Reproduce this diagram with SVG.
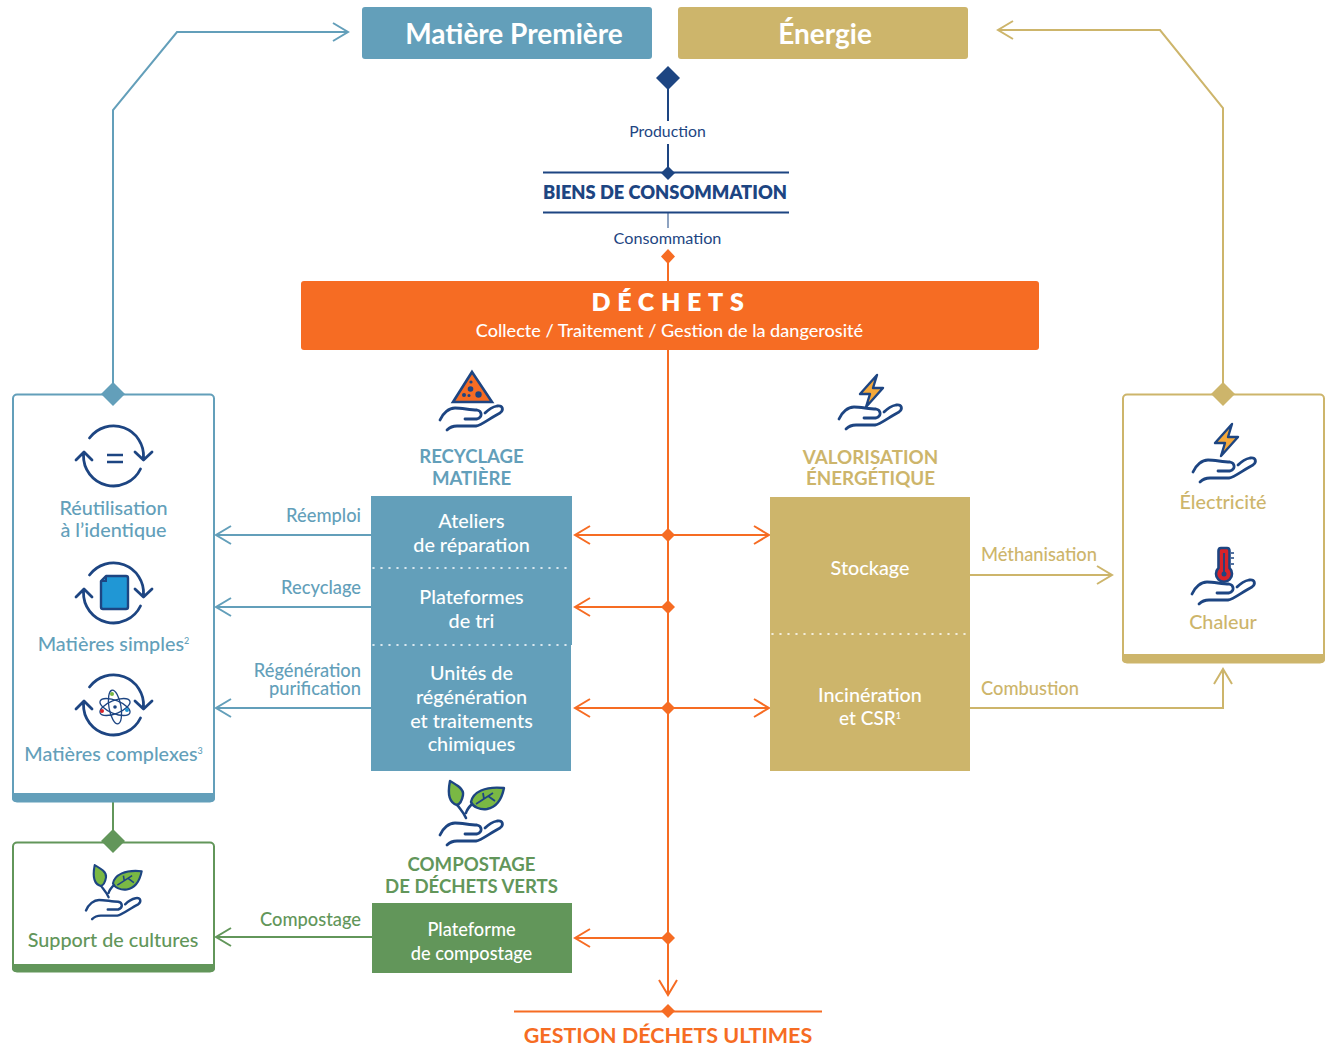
<svg xmlns="http://www.w3.org/2000/svg" width="1327" height="1055" viewBox="0 0 1327 1055">
<style>
text{font-family:Lato,"Open Sans","Liberation Sans",sans-serif;text-anchor:middle}
.b{fill:#639fba}.g{fill:#cdb56b}.o{fill:#f66c23}.d{fill:#1d4582}.v{fill:#62965a}.w{fill:#fff}
.lbl{font-size:18.300px;font-weight:500;text-anchor:end}
.st{font-size:18.600px;font-weight:700}
.nm{font-size:19.800px;font-weight:500}
.bx{font-size:19.800px;font-weight:500;fill:#fff}
.frame{fill:#fff;stroke-width:2}
.ln{fill:none;stroke-width:2}
.hd{fill:none;stroke:#1d4582;stroke-width:2.800;stroke-linecap:round;stroke-linejoin:round}
.dot{fill:none;stroke:#fff;stroke-width:1.600;stroke-dasharray:1 7;stroke-linecap:round}
</style>
<defs>
<marker id="aB" markerUnits="userSpaceOnUse" markerWidth="20" markerHeight="20" refX="16" refY="10" orient="auto"><path d="M1 1L16 10L1 19" fill="none" stroke="#639fba" stroke-width="2"/></marker>
<marker id="aG" markerUnits="userSpaceOnUse" markerWidth="20" markerHeight="20" refX="16" refY="10" orient="auto"><path d="M1 1L16 10L1 19" fill="none" stroke="#cdb56b" stroke-width="2"/></marker>
<marker id="aO" markerUnits="userSpaceOnUse" markerWidth="20" markerHeight="20" refX="16" refY="10" orient="auto"><path d="M1 1L16 10L1 19" fill="none" stroke="#f66c23" stroke-width="2"/></marker>
<marker id="aV" markerUnits="userSpaceOnUse" markerWidth="20" markerHeight="20" refX="16" refY="10" orient="auto"><path d="M1 1L16 10L1 19" fill="none" stroke="#62965a" stroke-width="2"/></marker>
<g id="hand"><path class="hd" d="M0 20C3 13 9 8 15 8C22 8 30 10 37 10C42 11 43 17 37 19L25 19M7 30C10 27 13 26 17 26L36 26C42 25 50 18 60 13C64 10 63 5 57 6C52 7 48 10 45 13"/></g>
<g id="cycle"><path class="hd" d="M-24 -18A30 30 0 0 1 30 2M21.500 -4L30 4L38.500 -4M27 13A30 30 0 0 1 -30 -1M-37.500 4L-29.500 -4L-21.500 4"/></g>
<g id="bolt"><path d="M6 -1L-11 18L-1 18L-5 31L12 12L2 12Z" fill="#f5a93a" stroke="#1d4582" stroke-width="2.400" stroke-linejoin="round"/></g>
<g id="plant">
<path d="M16 21C19 26 23 29 26 36M26 31C27 27 29 25 32 22" fill="none" stroke="#1d4582" stroke-width="2.600" stroke-linecap="round"/>
<path d="M10 -1C17 3 24 7 23 13C22 19 20 22 17 23C10 21 7 14 10 -1Z" fill="#7ab844" stroke="#1d4582" stroke-width="2.400" stroke-linejoin="round"/>
<path d="M64 6C62 16 58 25 47 27C40 28 33 25 31 20C33 10 45 4 64 6Z" fill="#7ab844" stroke="#1d4582" stroke-width="2.400" stroke-linejoin="round"/>
<path d="M36 22L53 11M44 17L43 11M48 14L55 19" fill="none" stroke="#1d4582" stroke-width="1.800"/>
</g>
</defs>

<g id="connectors">
<path class="ln" stroke="#1d4582" d="M668 85V121M668 144V172"/>
<path d="M668 213V228" fill="none" stroke="#8ea3c1" stroke-width="2"/>
<path class="ln" stroke="#f66c23" d="M668 256V281"/>
<path class="ln" stroke="#1d4582" d="M543 172.500H789M543 212.500H789"/>
<path class="ln" stroke="#639fba" marker-end="url(#aB)" d="M113 394V110L177 32H348"/>
<path class="ln" stroke="#cdb56b" marker-end="url(#aG)" d="M1223 394V108L1160 30H998"/>
<path class="ln" stroke="#f66c23" marker-end="url(#aO)" d="M668 350V995"/>
<path class="ln" stroke="#f66c23" marker-end="url(#aO)" d="M668 535H575"/>
<path class="ln" stroke="#f66c23" marker-end="url(#aO)" d="M668 535H769"/>
<path class="ln" stroke="#f66c23" marker-end="url(#aO)" d="M668 607H575"/>
<path class="ln" stroke="#f66c23" marker-end="url(#aO)" d="M668 708H575"/>
<path class="ln" stroke="#f66c23" marker-end="url(#aO)" d="M668 708H769"/>
<path class="ln" stroke="#f66c23" marker-end="url(#aO)" d="M668 938H575"/>
<path class="ln" stroke="#f66c23" d="M514 1011.500H822"/>
<path class="ln" stroke="#639fba" marker-end="url(#aB)" d="M371 535H216"/>
<path class="ln" stroke="#639fba" marker-end="url(#aB)" d="M371 607H216"/>
<path class="ln" stroke="#639fba" marker-end="url(#aB)" d="M371 708H216"/>
<path class="ln" stroke="#62965a" marker-end="url(#aV)" d="M372 937H216"/>
<path class="ln" stroke="#62965a" d="M113 802V842"/>
<path class="ln" stroke="#cdb56b" marker-end="url(#aG)" d="M970 575H1112"/>
<path class="ln" stroke="#cdb56b" marker-end="url(#aG)" d="M970 708H1223V669"/>
<g class="o">
<path d="M668 249L675 256.500L668 264L661 256.500Z"/>
<path d="M668 528L675 535L668 542L661 535Z"/>
<path d="M668 600L675 607L668 614L661 607Z"/>
<path d="M668 701L675 708L668 715L661 708Z"/>
<path d="M668 931L675 938L668 945L661 938Z"/>
<path d="M668 1004L675 1011L668 1018L661 1011Z"/>
</g>
<path class="d" d="M668 66L680 78L668 90L656 78Z"/>
<path class="d" d="M668 166L675 173L668 180L661 173Z"/>
<text class="d" x="667.500" y="137" style="font-size:15.800px">Production</text>
<text class="d" x="667.500" y="244" style="font-size:16.200px">Consommation</text>
<text class="b lbl" x="361" y="522">Réemploi</text>
<text class="b lbl" x="361" y="594">Recyclage</text>
<text class="b lbl" x="361" y="676.500">Régénération</text>
<text class="b lbl" x="361" y="694.500">purification</text>
<text class="v lbl" x="361" y="925.500">Compostage</text>
<text class="g lbl" style="text-anchor:start" x="981" y="560.500">Méthanisation</text>
<text class="g lbl" style="text-anchor:start" x="981" y="694.500">Combustion</text>
</g>

<g id="matiere-premiere"><rect class="b" x="362" y="7" width="290" height="52" rx="3"/><text class="w" x="514" y="43.500" style="font-size:28px;font-weight:700">Matière Première</text></g>
<g id="energie"><rect class="g" x="678" y="7" width="290" height="52" rx="3"/><text class="w" x="825" y="43.500" style="font-size:28px;font-weight:700">Énergie</text></g>
<g id="biens"><text class="d" x="665" y="199" style="font-size:18.300px;font-weight:800">BIENS DE CONSOMMATION</text></g>
<g id="dechets"><rect class="o" x="301" y="281" width="738" height="69" rx="3"/>
<text class="w" x="671" y="311" style="font-size:25px;font-weight:800;letter-spacing:6.700px">DÉCHETS</text>
<text class="w" x="669.500" y="337" style="font-size:18.100px;font-weight:500">Collecte / Traitement / Gestion de la dangerosité</text></g>

<g id="recyclage-matiere">
<path d="M472 372L492 402H453Z" class="o" stroke="#1d4582" stroke-width="2.600"/>
<g class="d"><circle cx="471" cy="382" r="1.600"/><circle cx="470.500" cy="389" r="2.800"/><circle cx="464" cy="395" r="2"/><circle cx="469" cy="395.500" r="1.500"/><circle cx="478.500" cy="394.500" r="3.200"/></g>
<use href="#hand" x="440" y="400"/>
<text class="b st" x="471.500" y="463">RECYCLAGE</text><text class="b st" x="471.500" y="485">MATIÈRE</text>
</g>
<g id="recyclage-boxes"><rect class="b" x="371" y="496" width="201" height="72"/><rect class="b" x="371" y="568" width="201" height="77"/><rect class="b" x="371" y="645" width="200" height="126"/>
<path class="dot" d="M373 568H572M373 645H572"/>
<text class="bx" x="471.500" y="528">Ateliers</text><text class="bx" x="471.500" y="552">de réparation</text>
<text class="bx" x="471.500" y="604">Plateformes</text><text class="bx" x="471.500" y="628">de tri</text>
<text class="bx" x="471.500" y="680">Unités de</text><text class="bx" x="471.500" y="704">régénération</text><text class="bx" x="471.500" y="728">et traitements</text><text class="bx" x="471.500" y="751">chimiques</text>
</g>

<g id="valorisation">
<use href="#bolt" x="871" y="376"/>
<use href="#hand" x="839" y="399"/>
<text class="g st" x="870.500" y="463.500" style="font-size:18.800px">VALORISATION</text><text class="g st" x="870.500" y="485" style="font-size:18.800px">ÉNERGÉTIQUE</text>
</g>
<g id="valorisation-boxes"><rect class="g" x="770" y="497" width="200" height="274"/>
<path class="dot" d="M772 634H970"/>
<text class="bx" x="870" y="575">Stockage</text>
<text class="bx" x="870" y="702">Incinération</text>
<text class="bx" x="870" y="725" style="font-size:19px">et CSR<tspan dy="-6" style="font-size:9px">1</tspan></text>
</g>

<g id="compostage">
<use href="#plant" x="440" y="782"/>
<use href="#hand" x="440" y="815"/>
<text class="v st" x="471.500" y="871">COMPOSTAGE</text><text class="v st" x="471.500" y="893">DE DÉCHETS VERTS</text>
<rect class="v" x="372" y="903" width="200" height="70"/>
<text class="bx" x="471.500" y="936" style="font-size:18.200px">Plateforme</text><text class="bx" x="471.500" y="960" style="font-size:18.200px">de compostage</text>
</g>

<g id="gestion"><text class="o" x="668" y="1043" style="font-size:21.500px;font-weight:700">GESTION DÉCHETS ULTIMES</text></g>

<g id="reutilisation">
<rect class="frame" stroke="#639fba" x="13" y="394.500" width="201" height="407" rx="4"/>
<path class="b" d="M12 793H215V798A4 4 0 0 1 211 802H16A4 4 0 0 1 12 798Z"/>
<path class="b" d="M113 382L125 394L113 406L101 394Z"/>
<use href="#cycle" x="113.500" y="456"/>
<path d="M107 455H123M107 462H123" stroke="#1d4582" stroke-width="2.600" fill="none"/>
<text class="b nm" x="113.500" y="515">Réutilisation</text><text class="b nm" x="113.500" y="537">à l’identique</text>
<use href="#cycle" x="113.500" y="593"/>
<path d="M106 576H126Q128 576 128 578V607Q128 609 126 609H103Q101 609 101 607V581Z" fill="#2097d5" stroke="#1d4582" stroke-width="2.400" stroke-linejoin="round"/>
<path d="M106 576V581H101" fill="none" stroke="#1d4582" stroke-width="2"/>
<text class="b nm" x="113.500" y="651">Matières simples<tspan dy="-7" style="font-size:9px">2</tspan></text>
<use href="#cycle" x="113.500" y="705"/>
<g fill="none" stroke="#1d4582" stroke-width="1.300">
<ellipse cx="115" cy="707" rx="16" ry="6.500" transform="rotate(22 115 707)"/>
<ellipse cx="115" cy="707" rx="16" ry="6.500" transform="rotate(-22 115 707)"/>
<ellipse cx="115" cy="707" rx="17" ry="6" transform="rotate(80 115 707)"/>
</g>
<circle class="d" cx="115" cy="707" r="1.800"/><circle cx="112" cy="694" r="2" fill="#7ab844"/><circle cx="102" cy="711" r="2" fill="#d8232a"/><circle cx="127" cy="710" r="2" fill="#2097d5"/>
<text class="b nm" x="113.500" y="761">Matières complexes<tspan dy="-7" style="font-size:9px">3</tspan></text>
</g>

<g id="support-cultures">
<rect class="frame" stroke="#62965a" x="13" y="842.500" width="201" height="129" rx="4"/>
<path class="v" d="M12 964H215V968A4 4 0 0 1 211 972H16A4 4 0 0 1 12 968Z"/>
<path class="v" d="M113 829L125 841L113 853L101 841Z"/>
<use href="#plant" transform="translate(86 866) scale(.87)"/>
<use href="#hand" transform="translate(86 893) scale(.87)"/>
<text class="v nm" x="113" y="947">Support de cultures</text>
</g>

<g id="energie-sorties">
<rect class="frame" stroke="#cdb56b" x="1123" y="394.500" width="201" height="268" rx="4"/>
<path class="g" d="M1122 654H1325V659A4 4 0 0 1 1321 663H1126A4 4 0 0 1 1122 659Z"/>
<path class="g" d="M1223 382L1235 394L1223 406L1211 394Z"/>
<use href="#bolt" x="1226" y="425"/>
<use href="#hand" x="1193" y="452"/>
<text class="g nm" x="1223" y="509">Électricité</text>
<path d="M1221 548H1227Q1229.500 548 1229.500 551V568A8 8 0 1 1 1218.500 568V551Q1218.500 548 1221 548Z" fill="#d8232a" stroke="#1d4582" stroke-width="2.600"/>
<path d="M1224 553V572" stroke="#1d4582" stroke-width="1.800"/><circle class="d" cx="1224" cy="574" r="2.500"/>
<path d="M1231 553H1234M1231 558H1234M1231 564H1234" stroke="#1d4582" stroke-width="1.400"/>
<use href="#hand" x="1192" y="574"/>
<text class="g nm" x="1223" y="629">Chaleur</text>
</g>
</svg>
